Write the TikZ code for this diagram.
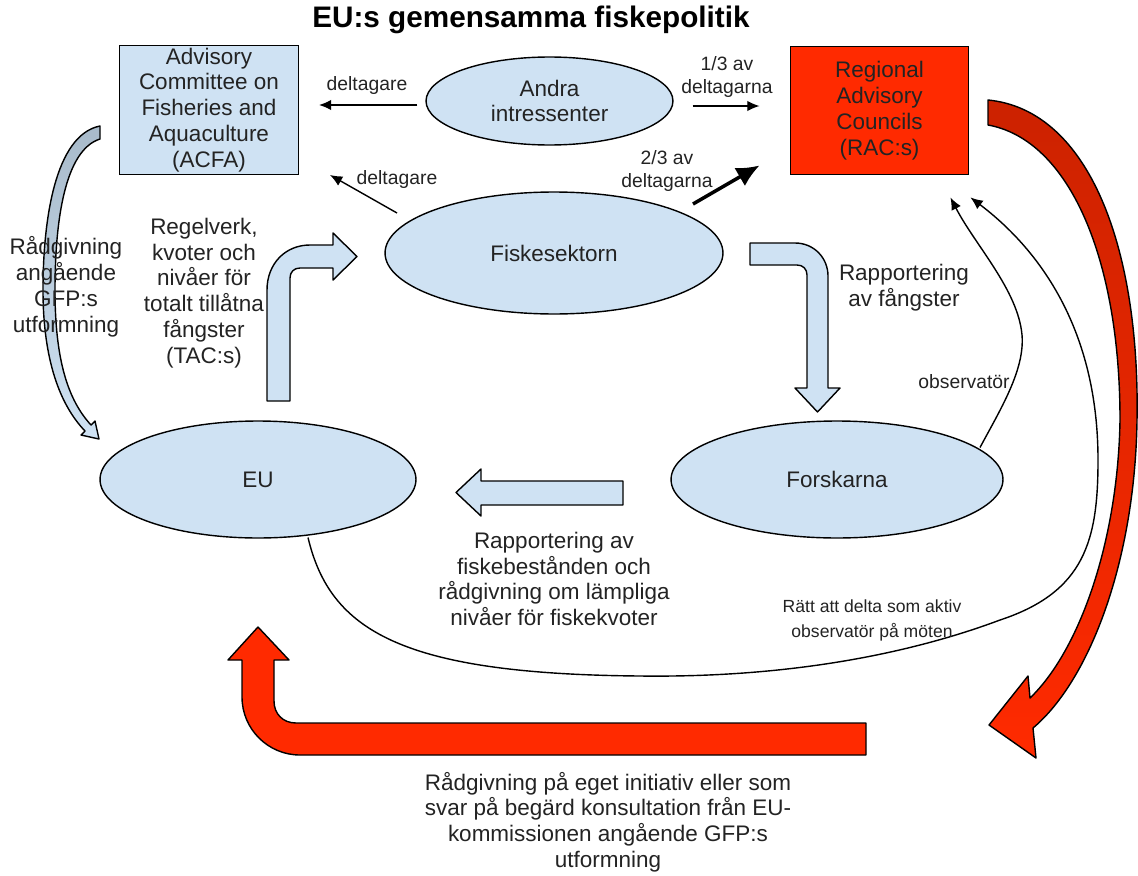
\documentclass[tikz,border=0pt]{standalone}
\usepackage{fontspec}
\setmainfont{Liberation Sans}
\usetikzlibrary{shapes.geometric,arrows.meta,calc}
\definecolor{paleblue}{RGB}{207,226,243}
\definecolor{racred}{RGB}{255,42,0}
\definecolor{deepred}{RGB}{204,34,0}
\definecolor{steelgrey}{RGB}{168,186,202}
\definecolor{inktext}{RGB}{35,35,35}

\begin{document}
\begin{tikzpicture}[x=0.02cm, y=-0.02cm,
  every node/.style = {text=inktext, align=center, inner sep=0pt},
  bigtext/.style = {font=\fontsize{12.8}{14.7}\selectfont},
  smalltext/.style = {font=\fontsize{11}{12.8}\selectfont},
  tinytext/.style = {font=\fontsize{10}{14.2}\selectfont},
  actor/.style = {bigtext, shape=ellipse, draw=black, line width=0.8pt, fill=paleblue},
  council/.style = {bigtext, shape=rectangle, draw=black, line width=0.8pt,
    minimum width=3.57cm, minimum height=2.57cm},
  flow/.style = {-{Latex[length=7pt,width=6pt]}, line width=0.8pt},
  bigflow/.style = {-{Latex[length=13pt,width=12pt]}, line width=2pt},
  fatarrow/.style = {draw=black, line width=0.8pt, fill=paleblue, line join=round}
]
\useasboundingbox (0,0) rectangle (1138,875);

\node[font=\bfseries\fontsize{16.9}{20}\selectfont, text=black] (title) at (531,20) {EU:s gemensamma fiskepolitik};

\node[council, fill=paleblue] (acfa) at (209,110) {Advisory\\Committee on\\Fisheries and\\Aquaculture\\(ACFA)};
\node[council, fill=racred] (rac) at (879.5,110.5) {Regional\\Advisory\\Councils\\(RAC:s)};
\node[actor, minimum width=4.94cm, minimum height=1.76cm] (andra) at (549.5,101) {Andra\\intressenter};
\node[actor, minimum width=6.76cm, minimum height=2.44cm] (fiske) at (554,253) {Fiskesektorn};
\node[actor, minimum width=6.32cm, minimum height=2.34cm] (eu) at (258,479.5) {EU};
\node[actor, minimum width=6.64cm, minimum height=2.34cm] (forsk) at (837,479.5) {Forskarna};

\draw[flow] ($(andra.west)+(-8,4)$) -- ($(acfa.east)+(20,-5)$);
\draw[flow] ($(andra.east)+(19,5)$) -- ($(rac.west)+(-30,-4.5)$);
\draw[flow] ($(fiske)+(-157,-40)$) -- ($(acfa.south east)+(31,0)$);
\draw[bigflow] ($(fiske)+(139,-49)$) -- ($(rac.south west)+(-30,-10)$);

\node[smalltext] (dt1) at (367,86) {deltagare};
\node[smalltext] (dt2) at (727,77) {1/3 av\\deltagarna};
\node[smalltext] (dt3) at (397,180) {deltagare};
\node[smalltext] (dt4) at (667,171) {2/3 av\\deltagarna};

\draw[fatarrow] (267,401) -- (267,290) .. controls (267,264) and (285,245) .. (310,245)
  -- (333,245) -- (333,233) -- (357,256.5) -- (333,280) -- (333,268) -- (300,268)
  .. controls (294,268) and (290,272) .. (290,278) -- (290,401) -- cycle;
\draw[fatarrow] (750,243) -- (795,243) .. controls (814,243) and (828,258) .. (828,276)
  -- (828,388) -- (840,388) -- (817.5,412) -- (795,388) -- (807,388) -- (807,275)
  .. controls (807,269) and (803,265) .. (797,265) -- (750,265) -- cycle;
\draw[fatarrow] (623,481) -- (481,481) -- (481,469) -- (456,492.5) -- (481,516)
  -- (481,505) -- (623,505) -- cycle;

\draw[fatarrow, top color=steelgrey, bottom color=paleblue] (100,126)
  .. controls (55,135) and (43,220) .. (43,290) .. controls (43,360) and (60,405) .. (85,431)
  -- (81,435) -- (99,439) -- (95,421) -- (91,425)
  .. controls (68,400) and (55,360) .. (55,290) .. controls (55,220) and (65,150) .. (100,139) -- cycle;

\draw[fatarrow, top color=deepred, bottom color=racred] (988,100)
  .. controls (1090,110) and (1140,250) .. (1137,420) .. controls (1135,560) and (1090,680) .. (1033,728)
  -- (1036,758) -- (989,725) -- (1028,676) -- (1030,698)
  .. controls (1080,650) and (1118,540) .. (1120,420) .. controls (1120,260) and (1070,140) .. (988,125) -- cycle;

\draw[fatarrow, fill=racred] (258,627) -- (289,660) -- (274,660) -- (274,701)
  .. controls (274,714) and (283,723) .. (296,723) -- (866,723) -- (866,755) -- (300,755)
  .. controls (268,755) and (242,729) .. (242,697) -- (242,660) -- (228,660) -- cycle;

\draw[flow] ($(forsk)+(143,-32)$) .. controls (1000,410) and (1025,370) .. (1022,335)
  .. controls (1018,290) and (975,245) .. ($(rac.south east)+(-19,22)$);
\draw[flow] ($(eu)+(50,58)$) .. controls (330,630) and (400,674) .. (640,676)
  .. controls (800,678) and (920,650) .. (1000,620) .. controls (1085,592) and (1098,540) .. (1098,460)
  .. controls (1098,330) and (1040,250) .. ($(rac.south east)+(1,22)$);

\node[bigtext] (regel) at (204,293) {Regelverk,\\kvoter och\\nivåer för\\totalt tillåtna\\fångster\\(TAC:s)};
\node[bigtext] (radacfa) at (66,287) {Rådgivning\\angående\\GFP:s\\utformning};
\node[bigtext] (rappf) at (904,288) {Rapportering\\av fångster};
\node[bigtext] (rappb) at (554,579) {Rapportering av\\fiskebestånden och\\rådgivning om lämpliga\\nivåer för fiskekvoter};
\node[smalltext] (obs) at (964,382) {observatör};
\node[tinytext] (ratt) at (872,620) {Rätt att delta som aktiv\\observatör på möten};
\node[bigtext] (radrac) at (608,822) {Rådgivning på eget initiativ eller som\\svar på begärd konsultation från EU-\\kommissionen angående GFP:s\\utformning};

\end{tikzpicture}
\end{document}
